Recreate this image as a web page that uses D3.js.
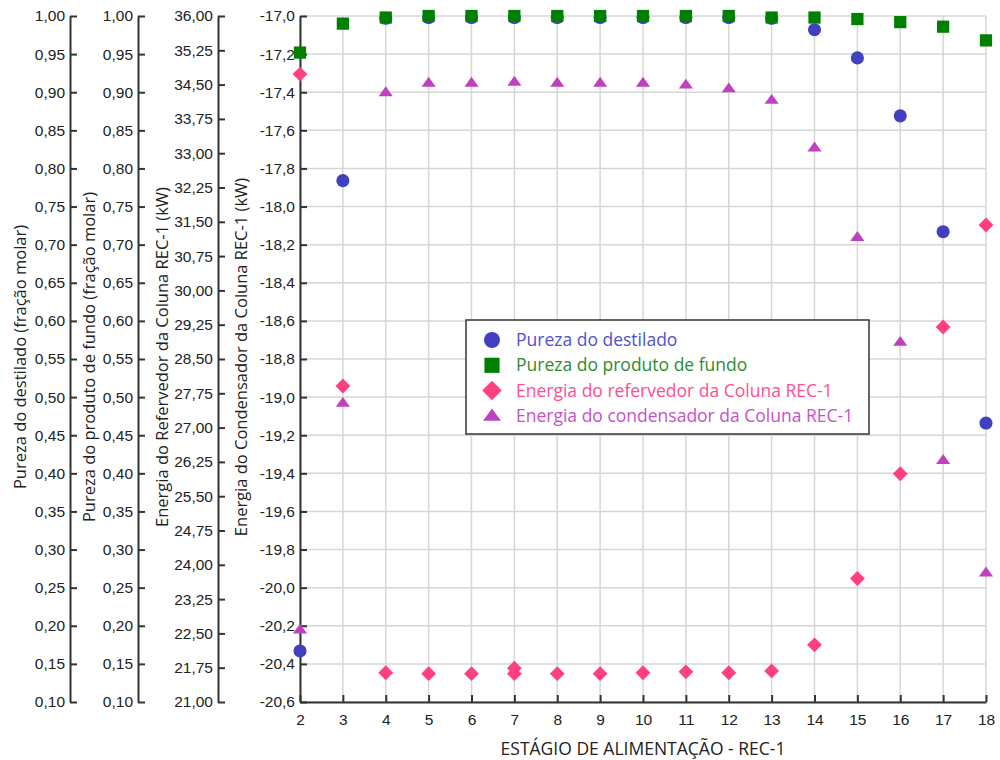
<!DOCTYPE html>
<html>
<head>
<meta charset="utf-8">
<script src="https://cdn.jsdelivr.net/npm/d3@7"></script>
<style>
  body { margin: 0; background: #fff; }
  svg { font-family: "Open Sans", "Noto Sans", sans-serif; }
  .grid line { stroke: #d6d6d6; stroke-width: 1.5; }
  .axis path, .axis line { stroke: #333; stroke-width: 2; }
  .axis text { fill: #222; font-size: 15.5px; }
  .title { fill: #222; font-size: 16.5px; }
  .xtitle { fill: #222; font-size: 17.5px; }
</style>
</head>
<body>
<div id="chart"></div>
<script>
// Feed stage of column REC-1
const stages = [2, 3, 4, 5, 6, 7, 8, 9, 10, 11, 12, 13, 14, 15, 16, 17, 18];

// Distillate purity (molar fraction)
const purezaDestilado = [0.167, 0.784, 0.997, 0.998, 0.998, 0.998, 0.998, 0.998, 0.998, 0.998, 0.998, 0.997, 0.982, 0.945, 0.869, 0.717, 0.466];

// Bottom product purity (molar fraction)
const purezaFundo = [0.952, 0.990, 0.998, 1.000, 1.000, 1.000, 1.000, 1.000, 1.000, 1.000, 1.000, 0.998, 0.998, 0.996, 0.992, 0.986, 0.968];

// Reboiler energy (kW) - stage 7 has two points
const energiaRefervedor = [
  [2, 34.73], [3, 27.91], [4, 21.64], [5, 21.62], [6, 21.62], [7, 21.62], [7, 21.74],
  [8, 21.62], [9, 21.62], [10, 21.64], [11, 21.66], [12, 21.64], [13, 21.68],
  [14, 22.25], [15, 23.70], [16, 25.99], [17, 29.20], [18, 31.43]
];

// Condenser energy (kW)
const energiaCondensador = [-20.22, -19.03, -17.40, -17.35, -17.35, -17.345, -17.35, -17.35, -17.35, -17.36, -17.38, -17.44, -17.69, -18.16, -18.71, -19.33, -19.92];

const seriesNames = ['Pureza do destilado', 'Pureza do produto de fundo',
  'Energia do refervedor da Coluna REC-1', 'Energia do condensador da Coluna REC-1'];
const colors = ['#4040c0', '#008000', '#ff4080', '#c040c0'];
const textColors = ['#5050d0', '#2e8b2e', '#ff4f8f', '#c850c8'];

const purityTicks = d3.range(0, 19).map(i => +(0.10 + i * 0.05).toFixed(2));
const reboilerTicks = d3.range(0, 21).map(i => +(21 + i * 0.75).toFixed(2));
const condenserTicks = d3.range(0, 19).map(i => +(-20.6 + i * 0.2).toFixed(1));

const width = 1000, height = 760;
const plot = { left: 300, right: 986, top: 16, bottom: 702 };

const svg = d3.select('#chart').append('svg')
  .attr('width', width)
  .attr('height', height);

const x = d3.scaleLinear().domain([2, 18]).range([plot.left, plot.right]);
const yPur = d3.scaleLinear().domain([0.10, 1.00]).range([plot.bottom, plot.top]);
const yReb = d3.scaleLinear().domain([21, 36]).range([plot.bottom, plot.top]);
const yCond = d3.scaleLinear().domain([-20.6, -17.0]).range([plot.bottom, plot.top]);

const fmt2 = d => d3.format('.2f')(d).replace('.', ',').replace('−', '-');
const fmt1 = d => d3.format('.1f')(d).replace('.', ',').replace('−', '-');

// Grid
const grid = svg.append('g').attr('class', 'grid');
grid.selectAll('.gx').data(stages).enter().append('line')
  .attr('x1', d => x(d)).attr('x2', d => x(d))
  .attr('y1', plot.top).attr('y2', plot.bottom);
grid.selectAll('.gy').data(condenserTicks).enter().append('line')
  .attr('x1', plot.left).attr('x2', plot.right)
  .attr('y1', d => yCond(d)).attr('y2', d => yCond(d));

// Axes
function leftAxis(scale, ticks, fmt, xpos) {
  const g = svg.append('g').attr('class', 'axis')
    .attr('transform', `translate(${xpos},0)`)
    .call(d3.axisRight(scale).tickValues(ticks).tickFormat(fmt).tickSize(7).tickSizeOuter(0));
  g.selectAll('text').attr('x', -5).attr('text-anchor', 'end');
  return g;
}
leftAxis(yPur, purityTicks, fmt2, 70);
leftAxis(yPur, purityTicks, fmt2, 138);
leftAxis(yReb, reboilerTicks, fmt2, 218);
leftAxis(yCond, condenserTicks, fmt1, plot.left);

const xAxis = svg.append('g').attr('class', 'axis')
  .attr('transform', `translate(0,${plot.bottom})`)
  .call(d3.axisBottom(x).tickValues(stages).tickFormat(d3.format('d')).tickSize(-7).tickSizeOuter(0));
xAxis.selectAll('text').attr('y', 12);

// Axis titles
const yTitles = [
  ['Pureza do destilado (fração molar)', 20],
  ['Pureza do produto de fundo (fração molar)', 89],
  ['Energia do Refervedor da Coluna REC-1 (kW)', 162],
  ['Energia do Condensador da Coluna REC-1 (kW)', 241]
];
yTitles.forEach(([t, xp]) => {
  svg.append('text').attr('class', 'title')
    .attr('transform', `translate(${xp},357) rotate(-90)`)
    .attr('text-anchor', 'middle')
    .attr('dy', '0.35em')
    .text(t);
});
svg.append('text').attr('class', 'xtitle')
  .attr('x', (plot.left + plot.right) / 2).attr('y', 755)
  .attr('text-anchor', 'middle')
  .text('ESTÁGIO DE ALIMENTAÇÃO - REC-1');

// Flat triangle like the original marker
const flatTriangle = {
  draw(ctx, size) {
    const w = Math.sqrt(size) * 1.45, h = w * 0.7;
    ctx.moveTo(0, -h * 0.6);
    ctx.lineTo(w / 2, h * 0.4);
    ctx.lineTo(-w / 2, h * 0.4);
    ctx.closePath();
  }
};
const diamond = {
  draw(ctx, size) {
    const r = Math.sqrt(size / 2);
    ctx.moveTo(0, -r);
    ctx.lineTo(r, 0);
    ctx.lineTo(0, r);
    ctx.lineTo(-r, 0);
    ctx.closePath();
  }
};

const types = [d3.symbolCircle, d3.symbolSquare, diamond, flatTriangle];
const plotSizes = [135, 150, 110, 95];
const legendSizes = [200, 230, 190, 150];
const sym = types.map((t, i) => d3.symbol().type(t).size(plotSizes[i]));

const marks = svg.append('g');
marks.selectAll('.dest').data(stages.map((s, i) => [s, purezaDestilado[i]])).enter().append('path')
  .attr('d', sym[0]).attr('fill', colors[0])
  .attr('transform', d => `translate(${x(d[0])},${yPur(d[1])})`);
marks.selectAll('.fund').data(stages.map((s, i) => [s, purezaFundo[i]])).enter().append('path')
  .attr('d', sym[1]).attr('fill', colors[1])
  .attr('transform', d => `translate(${x(d[0])},${yPur(d[1])})`);
marks.selectAll('.reb').data(energiaRefervedor).enter().append('path')
  .attr('d', sym[2]).attr('fill', colors[2])
  .attr('transform', d => `translate(${x(d[0])},${yReb(d[1])})`);
marks.selectAll('.cond').data(stages.map((s, i) => [s, energiaCondensador[i]])).enter().append('path')
  .attr('d', sym[3]).attr('fill', colors[3])
  .attr('transform', d => `translate(${x(d[0])},${yCond(d[1])})`);

// Legend
const legend = svg.append('g').attr('transform', 'translate(466,320)');
legend.append('rect').attr('width', 403).attr('height', 114)
  .attr('fill', '#fff').attr('stroke', '#333').attr('stroke-width', 1.5);
seriesNames.forEach((name, i) => {
  const ly = 20 + i * 25.3;
  legend.append('path').attr('d', d3.symbol().type(types[i]).size(legendSizes[i])).attr('fill', colors[i])
    .attr('transform', `translate(26,${ly})`);
  legend.append('text').attr('x', 50).attr('y', ly).attr('dy', '0.35em')
    .attr('fill', textColors[i]).style('font-size', '17.5px').text(name);
});
</script>
</body>
</html>
